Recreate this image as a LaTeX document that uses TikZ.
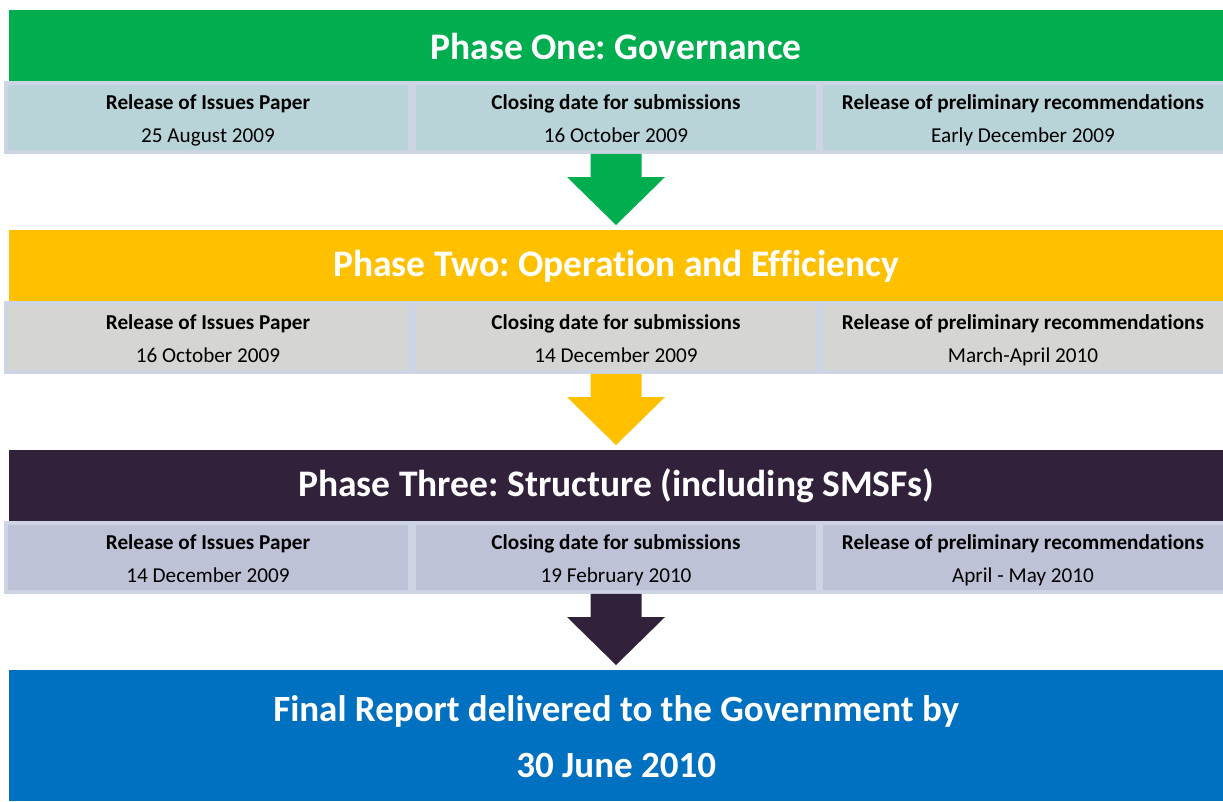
\documentclass[tikz,border=0pt]{standalone}
\usepackage{fontspec}
\setmainfont{Carlito}[Ligatures=NoCommon]
\usetikzlibrary{calc,positioning}
\frenchspacing

\definecolor{phgreen}{HTML}{00AE50}
\definecolor{phyellow}{HTML}{FFC000}
\definecolor{phdark}{HTML}{31213B}
\definecolor{phblue}{HTML}{0070C0}
\definecolor{rowgreen}{HTML}{B9D4D8}
\definecolor{rowyellow}{HTML}{D5D6D1}
\definecolor{rowdark}{HTML}{BEC2D6}
\definecolor{cellrim}{HTML}{CDD5E5}

% two lines of a date cell, baselines fixed
\newcommand{\celltext}[2]{\rule{0pt}{26pt}\textbf{#1}\strut\\#2\strut}

\tikzset{
    phase/.style={fill=#1, anchor=north west, minimum width=1214pt, minimum height=72pt,
        inner sep=0pt, text=white, font=\bfseries\fontsize{37.5}{40}\selectfont},
    cell/.style={fill=#1, draw=cellrim, line width=4pt, minimum width=404pt, minimum height=67pt,
        inner sep=0pt, align=center, font=\fontsize{21.2}{33}\selectfont},
    blockarrow/.style={fill=#1}
}

\begin{document}
\begin{tikzpicture}[x=1pt,y=-1pt]
        \useasboundingbox (0,0) rectangle (1223,801);
        % phase one
        \node[phase=phgreen] (ph1) at (9,10) {Phase One: Governance};
        \node[cell=rowgreen] (ph1a) at (208,117.5) {\celltext{Release of Issues Paper}{25 August 2009}};
        \node[cell=rowgreen] (ph1b) at (616,117.5) {\celltext{Closing date for submissions}{16 October 2009}};
        \node[cell=rowgreen] (ph1c) at (1023,117.5) {\celltext{Release of preliminary recommendations}{Early December 2009}};
        % phase two
        \node[phase=phyellow] (ph2) at (9,230) {Phase Two: Operation and Efficiency};
        \node[cell=rowyellow] (ph2a) at (208,337.5) {\celltext{Release of Issues Paper}{16 October 2009}};
        \node[cell=rowyellow] (ph2b) at (616,337.5) {\celltext{Closing date for submissions}{14 December 2009}};
        \node[cell=rowyellow] (ph2c) at (1023,337.5) {\celltext{Release of preliminary recommendations}{March-April 2010}};
        % phase three
        \node[phase=phdark] (ph3) at (9,450) {Phase Three: Structure (including SMSFs)};
        \node[cell=rowdark] (ph3a) at (208,557.5) {\celltext{Release of Issues Paper}{14 December 2009}};
        \node[cell=rowdark] (ph3b) at (616,557.5) {\celltext{Closing date for submissions}{19 February 2010}};
        \node[cell=rowdark] (ph3c) at (1023,557.5) {\celltext{Release of preliminary recommendations}{April - May 2010}};
        % final report
        \node[phase=phblue, minimum height=131pt, align=center, font=\bfseries\fontsize{37}{56}\selectfont]
            (final) at (9,670) {\rule{0pt}{45pt}Final Report delivered to the Government by\strut\\30 June 2010\strut};
        % arrows between phases
        \foreach \from/\to/\col in {ph1b/ph2/phgreen, ph2b/ph3/phyellow, ph3b/final/phdark}
            \fill[blockarrow=\col] let \p1=(\from.south), \p2=(\to.north) in
                (\x1-25.5pt,\y1) -- (\x1+25.5pt,\y1) -- (\x1+25.5pt,\y2+53pt) -- (\x1+49pt,\y2+53pt)
                -- (\x1,\y2+5pt) -- (\x1-49pt,\y2+53pt) -- (\x1-25.5pt,\y2+53pt) -- cycle;
\end{tikzpicture}
\end{document}
